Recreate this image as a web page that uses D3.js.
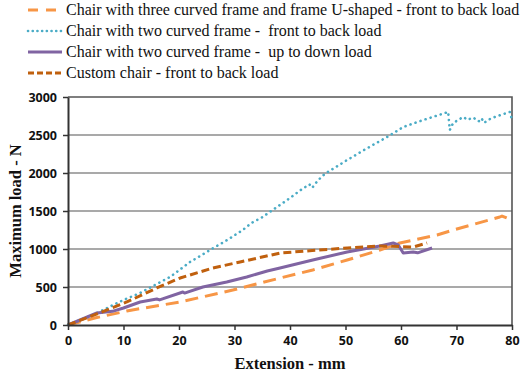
<!DOCTYPE html>
<html>
<head>
<meta charset="utf-8">
<script src="https://cdn.jsdelivr.net/npm/d3@7"></script>
<style>
  body { margin: 0; background: #fff; }
  svg text { white-space: pre; }
</style>
</head>
<body>
<div id="chart"></div>
<script>
// series names (legend order)
var seriesNames = [
    "Chair with three curved frame and frame U-shaped - front to back load",
    "Chair with two curved frame -  front to back load",
    "Chair with two curved frame -  up to down load",
    "Custom chair - front to back load"
];

var xTicks = [0, 10, 20, 30, 40, 50, 60, 70, 80];
var yTicks = [0, 500, 1000, 1500, 2000, 2500, 3000];

// extension (mm) / load (N)
var threeCurvedExt  = [0, 5, 10.6, 13, 20.2, 29.7, 38.2, 44.1, 50.3, 56.2, 59.8, 66.5, 69.4, 77.8, 78.2, 80];
var threeCurvedLoad = [0, 95, 184, 215, 303, 460, 618, 724, 855, 987, 1079, 1184, 1250, 1421, 1434, 1380];

var twoFrontExt  = [0, 5, 10, 13, 18.4, 22, 26.5, 28.5, 31.5, 33, 35.1, 36, 38.7, 40, 42, 43.5, 44, 45, 46.3, 50.3, 54, 57.5, 60.4, 64, 68.5, 68.7, 68.8, 69.4, 71.2, 72, 73, 74, 74.5, 75, 75.7, 77, 79.6, 80];
var twoFrontLoad = [0, 150, 330, 421, 632, 830, 1026, 1110, 1250, 1340, 1421, 1470, 1605, 1671, 1780, 1850, 1805, 1900, 1990, 2171, 2330, 2474, 2605, 2697, 2803, 2640, 2566, 2658, 2737, 2700, 2730, 2680, 2720, 2660, 2700, 2740, 2803, 2700];

var twoUpDownExt  = [0, 5.2, 8, 10, 13, 16, 16.5, 20.7, 21, 24.3, 28.6, 32.2, 35.9, 38.2, 44.1, 50.3, 56.2, 58.6, 59.5, 60.4, 62.2, 63, 65.6];
var twoUpDownLoad = [0, 158, 180, 224, 303, 342, 330, 434, 420, 500, 566, 632, 710, 750, 855, 961, 1040, 1079, 1053, 947, 961, 950, 1013];

var customExt  = [0, 5, 10.6, 16, 20.2, 26.1, 31, 38.2, 44, 50.3, 56.2, 62.2, 64.7];
var customLoad = [0, 140, 303, 487, 618, 750, 829, 947, 980, 1013, 1040, 1026, 1079];

var colors = ["#F79646", "#4BACC6", "#8064A2", "#C0600E"];
var dashes = ["13,7", "0.1,5.2", null, "8,4"];

var allX = [threeCurvedExt, twoFrontExt, twoUpDownExt, customExt];
var allY = [threeCurvedLoad, twoFrontLoad, twoUpDownLoad, customLoad];

var serif = "'Liberation Serif', 'Times New Roman', 'DejaVu Serif', serif";
var sans = "'Open Sans', 'DejaVu Sans', sans-serif";

var W = 520, H = 373;
var margin = {top: 97, right: 8, bottom: 48, left: 68},
    width = W - margin.left - margin.right,
    height = H - margin.top - margin.bottom;

var svg = d3.select("#chart").append("svg")
    .attr("width", W)
    .attr("height", H);

var x = d3.scaleLinear().domain([0, 80]).range([0, width]);
var y = d3.scaleLinear().domain([0, 3000]).range([height, 0]);

var g = svg.append("g")
    .attr("transform", "translate(" + margin.left + "," + margin.top + ")");

// grid
g.selectAll(".grid")
    .data(yTicks.slice(1, -1))
    .enter().append("line")
    .attr("x1", 0).attr("x2", width)
    .attr("y1", function(d) { return y(d); })
    .attr("y2", function(d) { return y(d); })
    .attr("stroke", "#8c8c8c")
    .attr("stroke-width", 1.6);

// frame top / right
g.append("path")
    .attr("d", "M0," + y(3000) + "H" + width + "V" + height)
    .attr("fill", "none")
    .attr("stroke", "#555")
    .attr("stroke-width", 1.6);

var line = d3.line()
    .x(function(d) { return x(d[0]); })
    .y(function(d) { return y(d[1]); });

// series
[0, 1, 2, 3].forEach(function(i) {
    var pts = allX[i].map(function(v, j) { return [v, allY[i][j]]; });
    g.append("path")
        .datum(pts)
        .attr("d", line)
        .attr("fill", "none")
        .attr("stroke", colors[i])
        .attr("stroke-width", i == 1 ? 2.6 : 3)
        .attr("stroke-linecap", i == 1 ? "round" : "butt")
        .attr("stroke-linejoin", "round")
        .attr("stroke-dasharray", dashes[i]);
});

// axes
var xAxis = g.append("g")
    .attr("transform", "translate(0," + height + ")")
    .call(d3.axisBottom(x).tickValues(xTicks).tickSize(5).tickSizeOuter(0).tickPadding(6).tickFormat(d3.format("d")));
var yAxis = g.append("g")
    .call(d3.axisLeft(y).tickValues(yTicks).tickSize(5).tickSizeOuter(0).tickPadding(6).tickFormat(d3.format("d")));
[xAxis, yAxis].forEach(function(a) {
    a.select(".domain").attr("stroke", "#333").attr("stroke-width", 2);
    a.selectAll(".tick line").attr("stroke", "#333").attr("stroke-width", 1.5);
    a.selectAll(".tick text")
        .attr("font-family", sans)
        .attr("font-weight", "bold")
        .attr("font-size", 12.5)
        .attr("fill", "#111");
});

// titles
svg.append("text")
    .attr("x", margin.left + width / 2)
    .attr("y", 369)
    .attr("text-anchor", "middle")
    .attr("font-family", serif)
    .attr("font-weight", "bold")
    .attr("font-size", 16.5)
    .attr("fill", "#111")
    .text("Extension - mm");

svg.append("text")
    .attr("transform", "translate(21," + (margin.top + height / 2) + ") rotate(-90)")
    .attr("text-anchor", "middle")
    .attr("font-family", serif)
    .attr("font-weight", "bold")
    .attr("font-size", 16.5)
    .attr("fill", "#111")
    .text("Maximum load - N");

// legend
var leg = svg.append("g");
seriesNames.forEach(function(name, i) {
    var yy = 10 + i * 21;
    leg.append("line")
        .attr("x1", 28).attr("x2", i == 0 ? 56 : 62)
        .attr("y1", yy).attr("y2", yy)
        .attr("stroke", colors[i])
        .attr("stroke-width", i == 1 ? 2.6 : 3)
        .attr("stroke-linecap", i == 1 ? "round" : "butt")
        .attr("stroke-dasharray", i == 0 ? "10,8" : i == 1 ? "0.1,4.6" : i == 3 ? "6,3" : null);
    leg.append("text")
        .attr("x", 66)
        .attr("y", yy + 5)
        .attr("font-family", serif)
        .attr("font-size", 16)
        .attr("fill", "#111")
        .text(name);
});
</script>
</body>
</html>
